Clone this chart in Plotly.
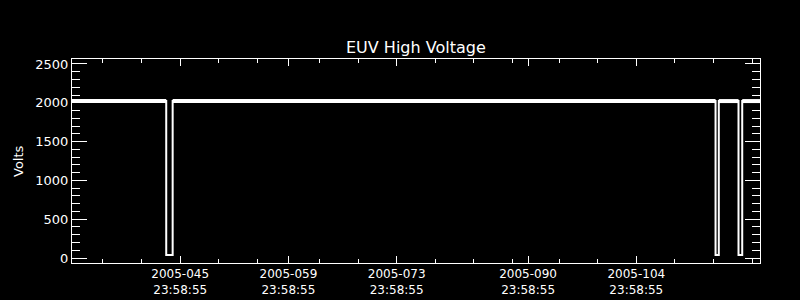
import pandas as pd
import plotly.graph_objects as go

# ---- data (day-of-year 2005, fractional) ----
t_doy = [32.0, 44.19, 44.19, 45.02, 45.02, 115.25, 115.25, 115.67, 115.67,
         118.22, 118.22, 118.70, 118.70, 121.0]
volts = [2022, 2022, 40, 40, 2022, 2022, 40, 40, 2022, 2022, 40, 40, 2022, 2022]
# nominal (high-voltage) flag for each point
nominal = [True, True, False, False, True, True, False, False, True, True,
           False, False, True, True]

tick_days = [45, 59, 73, 90, 104]
tick_time = "23:58:55"
minor_days = [35, 40, 50, 55, 63, 68, 78, 83, 88, 94, 99, 109, 114, 119]
y_ticks = [0, 500, 1000, 1500, 2000, 2500]
x_start_doy, x_end_doy = 32.0, 121.0

base = pd.Timestamp("2005-01-01")


def doy_to_ts(d):
    return base + pd.to_timedelta(d - 1, unit="D")


def doy_time(d, hms):
    return (base + pd.to_timedelta(d - 1, unit="D") + pd.to_timedelta(hms))


x = [doy_to_ts(d) for d in t_doy]
x_hi = [xi if n else None for xi, n in zip(x, nominal)]
y_hi = [v if n else None for v, n in zip(volts, nominal)]

tickvals = [doy_time(d, tick_time) for d in tick_days]
ticktext = [f"2005-{d:03d}<br>{tick_time}" for d in tick_days]
minor_vals = [doy_time(d, tick_time) for d in minor_days]

fig = go.Figure()
fig.add_trace(go.Scatter(x=x, y=volts, mode="lines",
                         line=dict(color="white", width=2), hoverinfo="skip"))
fig.add_trace(go.Scatter(x=x_hi, y=y_hi, mode="lines", connectgaps=False,
                         line=dict(color="white", width=4), hoverinfo="skip"))

fig.update_layout(
    width=800, height=300,
    margin=dict(l=72, r=40, t=59, b=37),
    paper_bgcolor="black", plot_bgcolor="black",
    showlegend=False,
    font=dict(family="DejaVu Sans", color="white", size=13),
)

fig.update_xaxes(
    type="date", automargin=False,
    range=[doy_to_ts(x_start_doy), doy_to_ts(x_end_doy)],
    showgrid=False, zeroline=False,
    showline=True, linecolor="white", linewidth=1, mirror="ticks",
    ticks="inside", ticklen=7, tickwidth=1, tickcolor="white",
    tickmode="array", tickvals=tickvals, ticktext=ticktext,
    tickfont=dict(size=12, color="white"),
    minor=dict(tickmode="array", tickvals=minor_vals, ticks="inside",
               ticklen=4, tickwidth=1, tickcolor="white", showgrid=False),
)

fig.update_yaxes(
    automargin=False,
    range=[-64, 2564],
    showgrid=False, zeroline=False,
    showline=True, linecolor="white", linewidth=1, mirror="ticks",
    ticks="inside", ticklen=15, tickwidth=1, tickcolor="white",
    tickmode="array", tickvals=y_ticks,
    tickfont=dict(size=13, color="white"),
    minor=dict(dtick=100, ticks="inside", ticklen=8, tickwidth=1,
               tickcolor="white", showgrid=False),
)

fig.add_annotation(text="EUV High Voltage", xref="paper", yref="paper",
                   x=0.5, y=1.056, xanchor="center", yanchor="middle",
                   showarrow=False, font=dict(size=16, color="white"))
fig.add_annotation(text="Volts", xref="paper", yref="paper",
                   x=-0.0785, y=0.5, xanchor="center", yanchor="middle",
                   textangle=-90, showarrow=False,
                   font=dict(size=13, color="white"))

fig.write_html("out.html")
